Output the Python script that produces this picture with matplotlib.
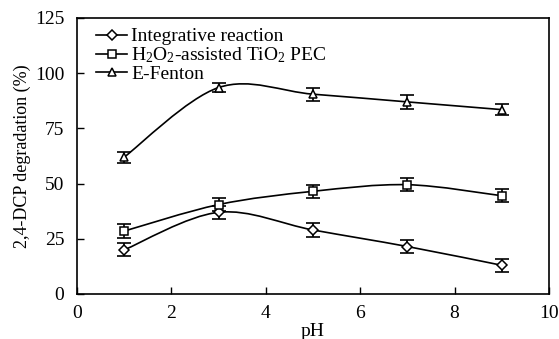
import numpy as np
import matplotlib
matplotlib.use("Agg")
import matplotlib.pyplot as plt
from matplotlib.path import Path
from matplotlib.patches import PathPatch

ph = [1, 3, 5, 7, 9]
integrative = [20, 37, 29, 21.5, 13]
integrative_err = [3, 3, 3, 3, 3]
h2o2_pec = [28.5, 40.5, 46.5, 49.5, 44.5]
h2o2_err = [3, 3, 3, 3, 3]
efenton = [62, 93.5, 90.5, 87, 83.5]
efenton_err = [2.5, 2, 3, 3, 2.5]

labels = ["Integrative reaction", "H$_2$O$_2$-assisted TiO$_2$ PEC", "E-Fenton"]
markers = ["D", "s", "^"]
msizes = [5, 6, 6]

plt.rcParams['font.family'] = ['Liberation Serif', 'DejaVu Serif']
plt.rcParams['mathtext.fontset'] = 'custom'
plt.rcParams['mathtext.rm'] = 'Liberation Serif'
plt.rcParams['mathtext.it'] = 'Liberation Serif:italic'

fig = plt.figure(figsize=(5.59, 3.39), dpi=100)
ax = fig.add_axes([77 / 559, 1 - 294 / 339, 472 / 559, 276 / 339])


def smooth_path(x, y):
    x = np.asarray(x, float); y = np.asarray(y, float)
    n = len(x)
    verts = [(x[0], y[0])]
    codes = [Path.MOVETO]
    for i in range(n - 1):
        xm1, ym1 = (x[i - 1], y[i - 1]) if i > 0 else (x[i], y[i])
        xp2, yp2 = (x[i + 2], y[i + 2]) if i + 2 < n else (x[i + 1], y[i + 1])
        c1 = (x[i] + (x[i + 1] - xm1) / 6, y[i] + (y[i + 1] - ym1) / 6)
        c2 = (x[i + 1] - (xp2 - x[i]) / 6, y[i + 1] - (yp2 - y[i]) / 6)
        verts += [c1, c2, (x[i + 1], y[i + 1])]
        codes += [Path.CURVE4] * 3
    return Path(verts, codes)


series = [(integrative, integrative_err), (h2o2_pec, h2o2_err), (efenton, efenton_err)]
for (vals, err), lab, mk, ms in zip(series, labels, markers, msizes):
    ax.add_patch(PathPatch(smooth_path(ph, vals), fill=False, lw=1.2, ec='black', zorder=2))
    ax.errorbar(ph, vals, yerr=err, fmt='none', ecolor='black', elinewidth=1.2,
                capsize=5, capthick=1.2, zorder=3)
    ax.plot(ph, vals, linestyle='none', marker=mk, ms=ms, mfc='white', mec='black',
            mew=1.1, zorder=4)
    ax.plot([], [], color='black', lw=1.2, marker=mk, ms=ms, mfc='white', mec='black',
            mew=1.1, label=lab)

ax.set_xlim(0, 10)
ax.set_ylim(0, 125)
ax.set_xticks([0, 2, 4, 6, 8, 10])
ax.set_yticks([0, 25, 50, 75, 100, 125])
ax.tick_params(direction='in', length=5, width=1, labelsize=14, top=False, right=False,
               colors='black')
ax.tick_params(axis='x', pad=8)
ax.tick_params(axis='y', pad=9)
for s in ax.spines.values():
    s.set_linewidth(1.2)
ax.set_xlabel('pH', fontsize=14, labelpad=1)
ax.set_ylabel('2,4-DCP degradation (%)', fontsize=13, labelpad=3)
ax.legend(loc='upper left', frameon=False, fontsize=14, handlelength=1.6,
          handletextpad=0.2, labelspacing=0.0, borderaxespad=0.3, borderpad=0.2,
          bbox_to_anchor=(0.02, 1.0))

fig.savefig('out.png', dpi=100)
